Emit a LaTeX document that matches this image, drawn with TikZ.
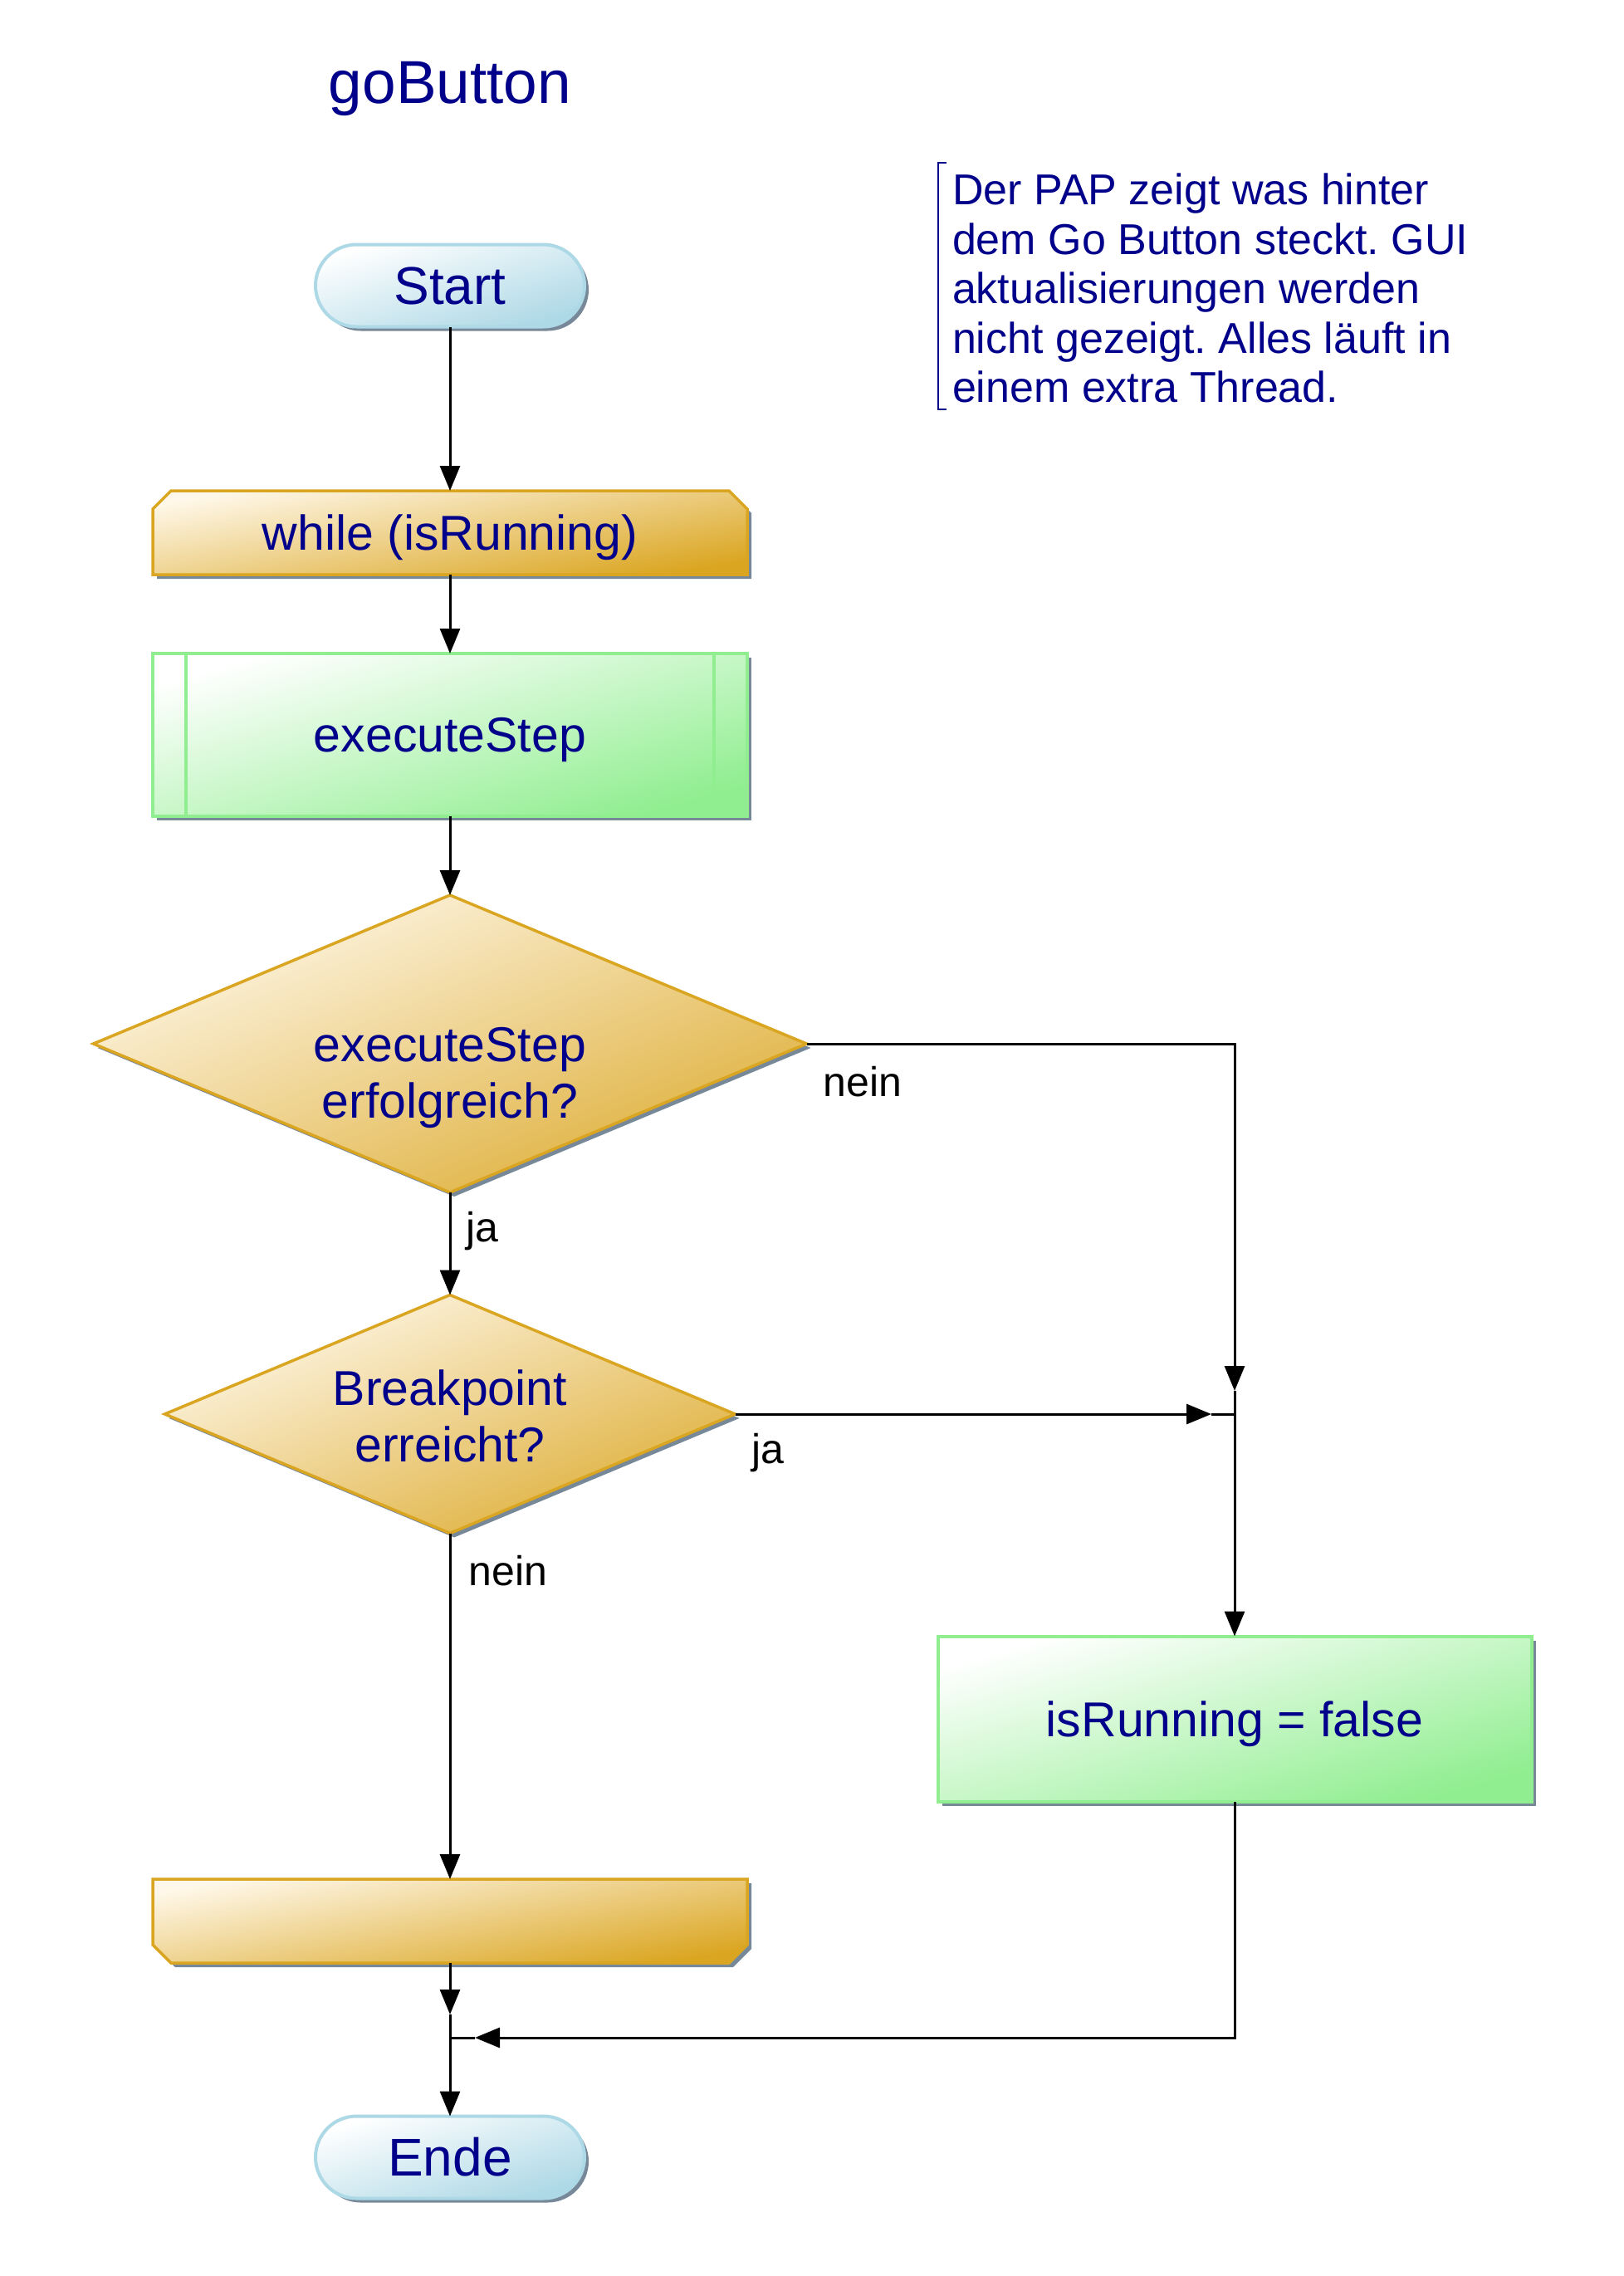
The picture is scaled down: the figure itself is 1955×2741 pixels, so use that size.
\documentclass[tikz,border=0pt]{standalone}
\usepackage{fontspec}
\setmainfont{Liberation Sans}
\usetikzlibrary{shapes.geometric,shapes.misc,arrows.meta,shadows,backgrounds}
\definecolor{navytxt}{HTML}{00008B}
\definecolor{lblue}{HTML}{ADD8E6}
\definecolor{gold}{HTML}{DAA520}
\definecolor{goldlight}{HTML}{FFF8EA}
\definecolor{lgreen}{HTML}{90EE90}
\definecolor{shadowc}{HTML}{778899}
\frenchspacing
\begin{document}
\begin{tikzpicture}[x=1pt,y=-1pt,
  every node/.style={inner sep=0pt,outer sep=0pt},
  shd/.style={drop shadow={fill=shadowc,opacity=1,shadow xshift=5pt,shadow yshift=-5pt}},
  txt/.style={text=navytxt,font=\fontsize{59}{68}\selectfont,align=center},
  terminal/.style={rounded rectangle,minimum width=324pt,minimum height=99pt,draw=lblue,line width=4pt,
     top color=white,bottom color=lblue,shading angle=17,shd,text=navytxt,font=\fontsize{64}{70}\selectfont},
  goldshape/.style={draw=gold,line width=3.5pt,top color=goldlight,bottom color=gold,shading angle=10,shd},
  boxgeom/.style={rectangle,txt,text depth=0pt},
  greenbox/.style={rectangle,draw=lgreen,line width=4pt,top color=white,bottom color=lgreen,shading angle=16,shd,txt,text depth=0pt},
  decision/.style={diamond,draw=gold,line width=3.5pt,top color=goldlight,bottom color=gold!90!white,shading angle=22,shd},
  arr/.style={draw=black,line width=3pt,-{Triangle[length=30pt,width=24pt]}},
  plain/.style={draw=black,line width=3pt},
  lbl/.style={text=black,font=\fontsize{50}{56}\selectfont},
]
\useasboundingbox (0,0) rectangle (1955,2741);

% title
\node[text=navytxt,font=\fontsize{73}{80}\selectfont,anchor=base] (title) at (542,124) {goButton};

% note
\draw[navytxt,line width=2pt] (1140,196) -- (1130,196) -- (1130,493) -- (1140,493);
\node[text=navytxt,font=\fontsize{52}{59.5}\selectfont,align=left,anchor=north west] (note) at (1147,209)
 {Der PAP zeigt was hinter\\dem Go Button steckt. GUI\\aktualisierungen werden\\nicht gezeigt. Alles läuft in\\einem extra Thread.};

% nodes
\node[terminal] (start) at (542,344) {Start};
\node[boxgeom,minimum width=716pt,minimum height=101pt] (w) at (542,641.5) {while (isRunning)};
\node[greenbox,minimum width=716pt,minimum height=196pt] (exec) at (542,885) {executeStep};
\draw[lgreen,line width=3.5pt] ([xshift=40pt]exec.north west) -- ([xshift=40pt]exec.south west);
\draw[lgreen,line width=3.5pt] ([xshift=-40pt]exec.north east) -- ([xshift=-40pt]exec.south east);
\node[decision,minimum width=859pt,minimum height=358pt] (d1) at (542,1257) {};
\node[txt] (d1t) at (542,1298) {executeStep\\erfolgreich?};
\node[decision,minimum width=687pt,minimum height=287pt] (d2) at (542,1703) {};
\node[txt] (d2t) at (542,1705) {Breakpoint\\erreicht?};
\node[greenbox,minimum width=715pt,minimum height=199pt] (isr) at (1487,2070) {isRunning = false};
\node[boxgeom,minimum width=716pt,minimum height=101pt] (le) at (542,2313.5) {};
\node[terminal] (ende) at (542,2598) {Ende};

\begin{scope}[on background layer]
\fill[white] (0,0) rectangle (1955,2741);
\path[goldshape] ([yshift=-22pt]w.north west) -- ([xshift=22pt]w.north west) -- ([xshift=-22pt]w.north east)
  -- ([yshift=-22pt]w.north east) -- (w.south east) -- (w.south west) -- cycle;
\path[goldshape] (le.north west) -- (le.north east) -- ([yshift=22pt]le.south east) -- ([xshift=-22pt]le.south east)
  -- ([xshift=22pt]le.south west) -- ([yshift=22pt]le.south west) -- cycle;
\end{scope}

% junctions
\coordinate (j1) at (1487,1703);
\coordinate (j1above) at (1487,1675);
\coordinate (j1left) at (1459,1703);
\coordinate (j2) at (542,2454);
\coordinate (j2above) at (542,2426);
\coordinate (j2right) at (572,2454);

% connectors
\draw[arr] (start) -- (w);
\draw[arr] (w) -- (exec);
\draw[arr] (exec) -- (d1);
\draw[arr] (d1.south) -- (d2.north);
\draw[arr] (d1.east) -| (j1above);
\draw[arr] (d2.east) -- (j1left);
\draw[plain] (j1left) -- (j1);
\draw[arr] (j1above) -- (isr.north);
\draw[arr] (d2.south) -- (le.north);
\draw[arr] (le.south) -- (j2above);
\draw[arr] (isr.south) |- (j2right);
\draw[plain] (j2right) -- (j2);
\draw[arr] (j2above) -- (ende.north);

% labels
\node[lbl] (l1) at (1039,1303) {nein};
\node[lbl] (l2) at (581,1483) {ja};
\node[lbl] (l3) at (925,1750) {ja};
\node[lbl] (l4) at (612,1892) {nein};
\end{tikzpicture}
\end{document}
